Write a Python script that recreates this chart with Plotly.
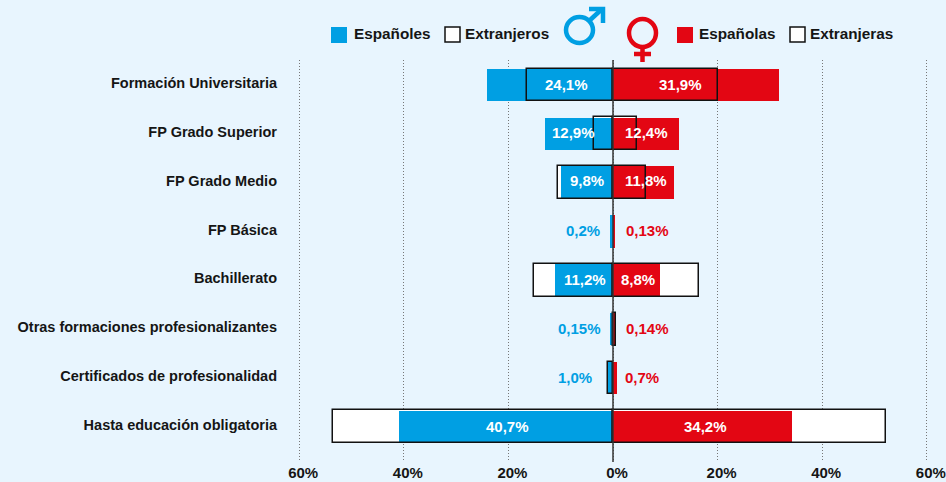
import plotly.graph_objects as go

categories = ["Formación Universitaria", "FP Grado Superior", "FP Grado Medio", "FP Básica",
              "Bachillerato", "Otras formaciones profesionalizantes",
              "Certificados de profesionalidad", "Hasta educación obligatoria"]
espanoles = [24.0, 13.0, 9.9, 0.6, 11.1, 0.6, 1.0, 40.9]
extranjeros = [16.5, 3.6, 10.5, None, 15.2, None, 1.0, 53.6]
espanolas = [31.8, 12.6, 11.6, 0.3, 8.9, 0.3, 0.7, 34.2]
extranjeras = [20.1, 4.6, 6.4, None, 16.5, 0.5, None, 52.2]
labels_h = ["24,1%", "12,9%", "9,8%", "0,2%", "11,2%", "0,15%", "1,0%", "40,7%"]
labels_m = ["31,9%", "12,4%", "11,8%", "0,13%", "8,8%", "0,14%", "0,7%", "34,2%"]
tick_vals = [-60, -40, -20, 0, 20, 40, 60]
tick_text = ["60%", "40%", "20%", "0%", "20%", "40%", "60%"]

BLUE, RED, BG, INK = "#009FE3", "#E30613", "#E8F5FE", "#151515"
FONT = "Liberation Sans"
W, H, L, T, B = 946, 482, 285, 60, 20
ZERO, PXU = 613, 5.23
# label centre distance from the zero line, in px (layout only)
SHIFT_H = [-47, -40, -26, -30, -28, -34, -38, -106]
SHIFT_M = [67, 33, 33, 34, 25, 34, 29, 92]
SHIFT_V = [0, 1, 2, 1, 1, 1, 0, 0]
INSIDE_H = [True, True, True, False, True, False, False, True]


def neg(v):
    return [None if a is None else -a for a in v]


def px(x):
    return (x - L) / (W - L)


def py(y):
    return 1 - (y - T) / (H - T - B)


fig = go.Figure()
for vals in (neg(extranjeros), extranjeras):
    fig.add_bar(x=vals, y=categories, orientation="h", width=0.67,
                marker=dict(color="white", line=dict(width=0)))
for vals, col in ((neg(espanoles), BLUE), (espanolas, RED)):
    fig.add_bar(x=vals, y=categories, orientation="h", width=0.66,
                marker=dict(color=col, line=dict(width=0)))
for vals in (neg(extranjeros), extranjeras):
    fig.add_bar(x=vals, y=categories, orientation="h", width=0.67,
                marker=dict(color="rgba(0,0,0,0)", line=dict(color="#111", width=1.5)))

ann = []
for i, c in enumerate(categories):
    ann.append(dict(x=0, y=c, xref="x", yref="y", xshift=SHIFT_H[i], yshift=SHIFT_V[i], text=labels_h[i],
                    showarrow=False,
                    font=dict(color="white" if INSIDE_H[i] else BLUE, size=15, family=FONT, weight="bold")))
    ann.append(dict(x=0, y=c, xref="x", yref="y", xshift=SHIFT_M[i], yshift=SHIFT_V[i], text=labels_m[i],
                    showarrow=False,
                    font=dict(color="white" if INSIDE_H[i] else RED, size=15, family=FONT, weight="bold")))
for text, x0 in (("Españoles", 354), ("Extranjeros", 465), ("Españolas", 699), ("Extranjeras", 810)):
    ann.append(dict(x=px(x0), y=py(34), xref="paper", yref="paper", xanchor="left", yanchor="middle",
                    text=text, showarrow=False, xshift=-2,
                    font=dict(color=INK, size=15.3, family=FONT, weight="bold")))

shapes = [dict(type="line", xref="x", yref="paper", x0=0, x1=0, y0=0, y1=1,
               line=dict(color="#333", width=1.5), layer="above")]
for x0, fill, line in ((331, BLUE, None), (445, "white", "#111"), (677, RED, None), (790, "white", "#111")):
    shapes.append(dict(type="rect", xref="paper", yref="paper", x0=px(x0), x1=px(x0 + 16 if not line else x0 + 15),
                       y0=py(27), y1=py(43 if not line else 42),
                       fillcolor=fill, line=dict(color=line or fill, width=1.5 if line else 0)))
# gender symbols
shapes += [
    dict(type="circle", xref="paper", yref="paper", x0=px(566), x1=px(593), y0=py(17), y1=py(43),
         line=dict(color=BLUE, width=4.5)),
    dict(type="line", xref="paper", yref="paper", x0=px(589), x1=px(602), y0=py(21), y1=py(9),
         line=dict(color=BLUE, width=4.5)),
    dict(type="path", xref="paper", yref="paper",
         path=f"M {px(589)} {py(9)} L {px(603)} {py(9)} L {px(603)} {py(23)}",
         line=dict(color=BLUE, width=4.5)),
    dict(type="circle", xref="paper", yref="paper", x0=px(629), x1=px(656), y0=py(19), y1=py(47),
         line=dict(color=RED, width=4.5)),
    dict(type="line", xref="paper", yref="paper", x0=px(642.5), x1=px(642.5), y0=py(47), y1=py(62),
         line=dict(color=RED, width=4.5)),
    dict(type="line", xref="paper", yref="paper", x0=px(634), x1=px(651), y0=py(54), y1=py(54),
         line=dict(color=RED, width=4.5)),
]

fig.update_layout(
    width=W, height=H, barmode="overlay", showlegend=False, bargap=0,
    paper_bgcolor=BG, plot_bgcolor=BG,
    margin=dict(l=L, r=0, t=T, b=B, autoexpand=False),
    annotations=ann, shapes=shapes,
    xaxis=dict(range=[(L - ZERO) / PXU, (W - ZERO) / PXU], tickvals=tick_vals, ticktext=tick_text,
               showgrid=True, griddash="1px,2px", gridcolor="#777", gridwidth=1, zeroline=False,
               showline=False, ticks="", ticklabelshift=4, ticklabelstandoff=0,
               tickfont=dict(size=15, color=INK, family=FONT, weight="bold"), automargin=False),
    yaxis=dict(range=[7.72, -0.51], type="category", categoryorder="array", categoryarray=categories,
               showgrid=False, zeroline=False, showline=False, ticks="", ticklabelstandoff=7, ticklabelshift=2,
               tickfont=dict(size=14.5, color=INK, family=FONT, weight="bold"), automargin=False),
)
fig.write_html("out.html", config={"displayModeBar": False},
               post_script="document.body.style.margin='0';document.body.style.overflow='hidden';document.body.style.background='" + BG + "';")
